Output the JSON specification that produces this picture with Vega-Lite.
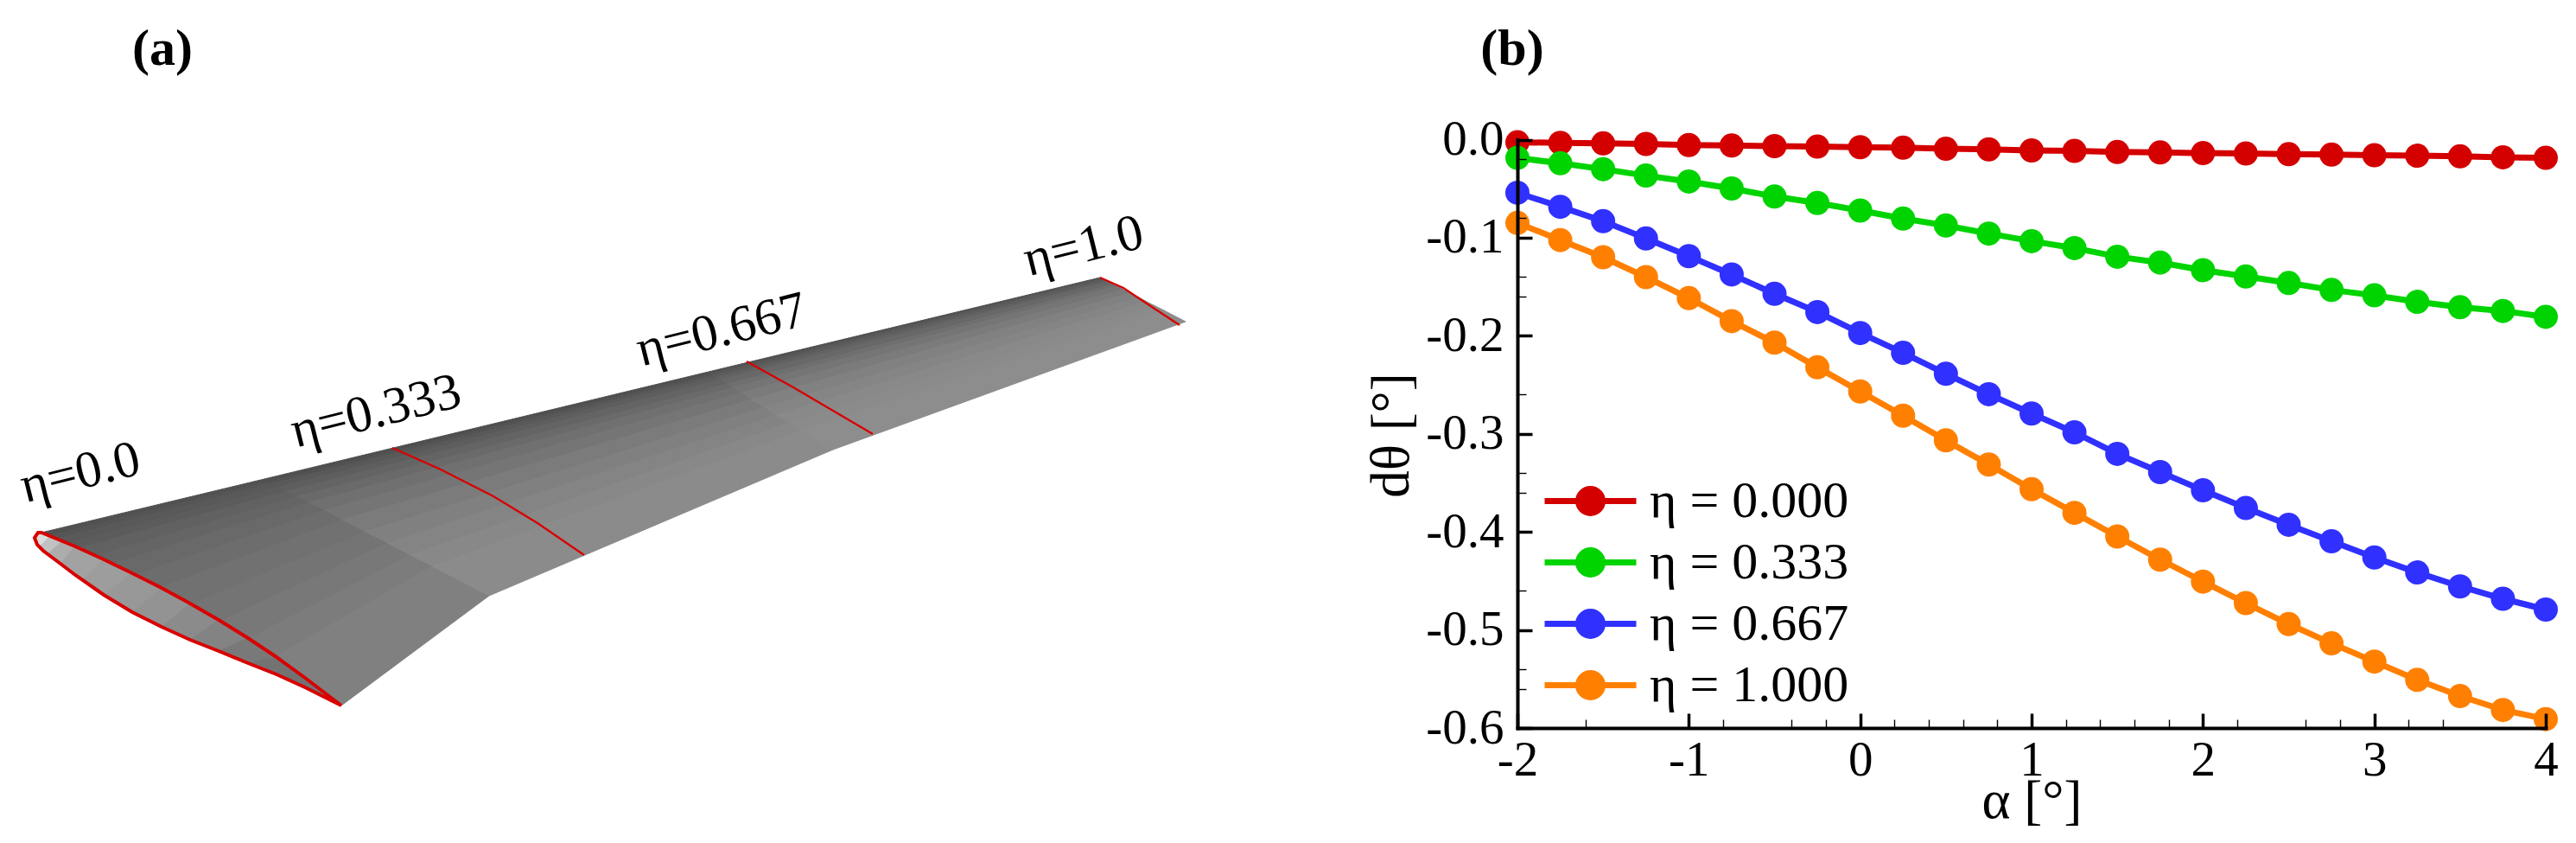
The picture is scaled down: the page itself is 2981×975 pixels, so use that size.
{
"$schema":"https://vega.github.io/schema/vega-lite/v6.json",
"width":2981,"height":975,"padding":0,"autosize":{"type":"none"},
"background":"white",
"view":{"stroke":null},
"config":{"font":"Liberation Serif","view":{"stroke":null}},
"resolve":{"scale":{"x":"independent","y":"independent","color":"independent"},"axis":{"x":"independent","y":"independent"}},
"layer":[
{
"encoding":{
"x":{"field":"wx","type":"quantitative","axis":null,"scale":{"domain":[0,2981],"range":[0,2981],"nice":false,"zero":false}},
"y":{"field":"wy","type":"quantitative","axis":null,"scale":{"domain":[0,975],"range":[0,975],"nice":false,"zero":false}}
},
"layer":[
{
"data":{"values":[
{"p":"a01","i":1,"wx":48,"wy":616,"g":88},{"p":"a01","i":2,"wx":306,"wy":554,"g":88},{"p":"a01","i":3,"wx":311,"wy":557,"g":88},{"p":"a01","i":4,"wx":55,"wy":620,"g":88},
{"p":"a02","i":1,"wx":55,"wy":620,"g":92},{"p":"a02","i":2,"wx":311,"wy":557,"g":92},{"p":"a02","i":3,"wx":316,"wy":559,"g":92},{"p":"a02","i":4,"wx":62,"wy":624,"g":92},
{"p":"a03","i":1,"wx":62,"wy":624,"g":96},{"p":"a03","i":2,"wx":316,"wy":559,"g":96},{"p":"a03","i":3,"wx":324,"wy":563,"g":96},{"p":"a03","i":4,"wx":72,"wy":630,"g":96},
{"p":"a04","i":1,"wx":72,"wy":630,"g":100},{"p":"a04","i":2,"wx":324,"wy":563,"g":100},{"p":"a04","i":3,"wx":332,"wy":568,"g":100},{"p":"a04","i":4,"wx":83,"wy":636,"g":100},
{"p":"a05","i":1,"wx":83,"wy":636,"g":105},{"p":"a05","i":2,"wx":332,"wy":568,"g":105},{"p":"a05","i":3,"wx":345,"wy":574,"g":105},{"p":"a05","i":4,"wx":100,"wy":646,"g":105},
{"p":"a06","i":1,"wx":100,"wy":646,"g":109},{"p":"a06","i":2,"wx":345,"wy":574,"g":109},{"p":"a06","i":3,"wx":358,"wy":581,"g":109},{"p":"a06","i":4,"wx":117,"wy":656,"g":109},
{"p":"a07","i":1,"wx":117,"wy":656,"g":113},{"p":"a07","i":2,"wx":358,"wy":581,"g":113},{"p":"a07","i":3,"wx":376,"wy":590,"g":113},{"p":"a07","i":4,"wx":142,"wy":670,"g":113},
{"p":"a08","i":1,"wx":142,"wy":670,"g":117},{"p":"a08","i":2,"wx":376,"wy":590,"g":117},{"p":"a08","i":3,"wx":397,"wy":601,"g":117},{"p":"a08","i":4,"wx":169,"wy":686,"g":117},
{"p":"a09","i":1,"wx":169,"wy":686,"g":121},{"p":"a09","i":2,"wx":397,"wy":601,"g":121},{"p":"a09","i":3,"wx":423,"wy":615,"g":121},{"p":"a09","i":4,"wx":204,"wy":706,"g":121},
{"p":"a10","i":1,"wx":204,"wy":706,"g":125},{"p":"a10","i":2,"wx":423,"wy":615,"g":125},{"p":"a10","i":3,"wx":449,"wy":628,"g":125},{"p":"a10","i":4,"wx":239,"wy":726,"g":125},
{"p":"a11","i":1,"wx":239,"wy":726,"g":129},{"p":"a11","i":2,"wx":449,"wy":628,"g":129},{"p":"a11","i":3,"wx":475,"wy":642,"g":129},{"p":"a11","i":4,"wx":274,"wy":746,"g":129},
{"p":"a12","i":1,"wx":274,"wy":746,"g":133},{"p":"a12","i":2,"wx":475,"wy":642,"g":133},{"p":"a12","i":3,"wx":501,"wy":655,"g":133},{"p":"a12","i":4,"wx":308,"wy":766,"g":133},
{"p":"a13","i":1,"wx":308,"wy":766,"g":137},{"p":"a13","i":2,"wx":501,"wy":655,"g":137},{"p":"a13","i":3,"wx":566,"wy":689,"g":137},{"p":"a13","i":4,"wx":395,"wy":816,"g":137},
{"p":"b01","i":1,"wx":306,"wy":554,"g":86},{"p":"b01","i":2,"wx":820,"wy":430,"g":86},{"p":"b01","i":3,"wx":823,"wy":432,"g":86},{"p":"b01","i":4,"wx":311,"wy":557,"g":86},
{"p":"b02","i":1,"wx":311,"wy":557,"g":90},{"p":"b02","i":2,"wx":823,"wy":432,"g":90},{"p":"b02","i":3,"wx":826,"wy":434,"g":90},{"p":"b02","i":4,"wx":316,"wy":559,"g":90},
{"p":"b03","i":1,"wx":316,"wy":559,"g":96},{"p":"b03","i":2,"wx":826,"wy":434,"g":96},{"p":"b03","i":3,"wx":830,"wy":436,"g":96},{"p":"b03","i":4,"wx":324,"wy":563,"g":96},
{"p":"b04","i":1,"wx":324,"wy":563,"g":102},{"p":"b04","i":2,"wx":830,"wy":436,"g":102},{"p":"b04","i":3,"wx":834,"wy":439,"g":102},{"p":"b04","i":4,"wx":332,"wy":568,"g":102},
{"p":"b05","i":1,"wx":332,"wy":568,"g":108},{"p":"b05","i":2,"wx":834,"wy":439,"g":108},{"p":"b05","i":3,"wx":842,"wy":444,"g":108},{"p":"b05","i":4,"wx":345,"wy":574,"g":108},
{"p":"b06","i":1,"wx":345,"wy":574,"g":114},{"p":"b06","i":2,"wx":842,"wy":444,"g":114},{"p":"b06","i":3,"wx":849,"wy":448,"g":114},{"p":"b06","i":4,"wx":358,"wy":581,"g":114},
{"p":"b07","i":1,"wx":358,"wy":581,"g":120},{"p":"b07","i":2,"wx":849,"wy":448,"g":120},{"p":"b07","i":3,"wx":859,"wy":454,"g":120},{"p":"b07","i":4,"wx":376,"wy":590,"g":120},
{"p":"b08","i":1,"wx":376,"wy":590,"g":126},{"p":"b08","i":2,"wx":859,"wy":454,"g":126},{"p":"b08","i":3,"wx":870,"wy":462,"g":126},{"p":"b08","i":4,"wx":397,"wy":601,"g":126},
{"p":"b09","i":1,"wx":397,"wy":601,"g":132},{"p":"b09","i":2,"wx":870,"wy":462,"g":132},{"p":"b09","i":3,"wx":885,"wy":471,"g":132},{"p":"b09","i":4,"wx":423,"wy":615,"g":132},
{"p":"b10","i":1,"wx":423,"wy":615,"g":137},{"p":"b10","i":2,"wx":885,"wy":471,"g":137},{"p":"b10","i":3,"wx":899,"wy":480,"g":137},{"p":"b10","i":4,"wx":449,"wy":628,"g":137},
{"p":"b11","i":1,"wx":449,"wy":628,"g":141},{"p":"b11","i":2,"wx":899,"wy":480,"g":141},{"p":"b11","i":3,"wx":914,"wy":489,"g":141},{"p":"b11","i":4,"wx":475,"wy":642,"g":141},
{"p":"b12","i":1,"wx":475,"wy":642,"g":145},{"p":"b12","i":2,"wx":914,"wy":489,"g":145},{"p":"b12","i":3,"wx":928,"wy":498,"g":145},{"p":"b12","i":4,"wx":501,"wy":655,"g":145},
{"p":"b13","i":1,"wx":501,"wy":655,"g":148},{"p":"b13","i":2,"wx":928,"wy":498,"g":148},{"p":"b13","i":3,"wx":964,"wy":520,"g":148},{"p":"b13","i":4,"wx":566,"wy":689,"g":148},
{"p":"c01","i":1,"wx":820,"wy":430,"g":88},{"p":"c01","i":2,"wx":1273,"wy":321,"g":88},{"p":"c01","i":3,"wx":1275,"wy":322,"g":88},{"p":"c01","i":4,"wx":823,"wy":432,"g":88},
{"p":"c02","i":1,"wx":823,"wy":432,"g":94},{"p":"c02","i":2,"wx":1275,"wy":322,"g":94},{"p":"c02","i":3,"wx":1277,"wy":323,"g":94},{"p":"c02","i":4,"wx":826,"wy":434,"g":94},
{"p":"c03","i":1,"wx":826,"wy":434,"g":100},{"p":"c03","i":2,"wx":1277,"wy":323,"g":100},{"p":"c03","i":3,"wx":1280,"wy":325,"g":100},{"p":"c03","i":4,"wx":830,"wy":436,"g":100},
{"p":"c04","i":1,"wx":830,"wy":436,"g":106},{"p":"c04","i":2,"wx":1280,"wy":325,"g":106},{"p":"c04","i":3,"wx":1283,"wy":326,"g":106},{"p":"c04","i":4,"wx":834,"wy":439,"g":106},
{"p":"c05","i":1,"wx":834,"wy":439,"g":112},{"p":"c05","i":2,"wx":1283,"wy":326,"g":112},{"p":"c05","i":3,"wx":1288,"wy":329,"g":112},{"p":"c05","i":4,"wx":842,"wy":444,"g":112},
{"p":"c06","i":1,"wx":842,"wy":444,"g":119},{"p":"c06","i":2,"wx":1288,"wy":329,"g":119},{"p":"c06","i":3,"wx":1293,"wy":331,"g":119},{"p":"c06","i":4,"wx":849,"wy":448,"g":119},
{"p":"c07","i":1,"wx":849,"wy":448,"g":126},{"p":"c07","i":2,"wx":1293,"wy":331,"g":126},{"p":"c07","i":3,"wx":1300,"wy":335,"g":126},{"p":"c07","i":4,"wx":859,"wy":454,"g":126},
{"p":"c08","i":1,"wx":859,"wy":454,"g":132},{"p":"c08","i":2,"wx":1300,"wy":335,"g":132},{"p":"c08","i":3,"wx":1308,"wy":339,"g":132},{"p":"c08","i":4,"wx":870,"wy":462,"g":132},
{"p":"c09","i":1,"wx":870,"wy":462,"g":138},{"p":"c09","i":2,"wx":1308,"wy":339,"g":138},{"p":"c09","i":3,"wx":1318,"wy":344,"g":138},{"p":"c09","i":4,"wx":885,"wy":471,"g":138},
{"p":"c10","i":1,"wx":885,"wy":471,"g":142},{"p":"c10","i":2,"wx":1318,"wy":344,"g":142},{"p":"c10","i":3,"wx":1327,"wy":349,"g":142},{"p":"c10","i":4,"wx":899,"wy":480,"g":142},
{"p":"c11","i":1,"wx":899,"wy":480,"g":146},{"p":"c11","i":2,"wx":1327,"wy":349,"g":146},{"p":"c11","i":3,"wx":1337,"wy":354,"g":146},{"p":"c11","i":4,"wx":914,"wy":489,"g":146},
{"p":"c12","i":1,"wx":914,"wy":489,"g":148},{"p":"c12","i":2,"wx":1337,"wy":354,"g":148},{"p":"c12","i":3,"wx":1347,"wy":359,"g":148},{"p":"c12","i":4,"wx":928,"wy":498,"g":148},
{"p":"c13","i":1,"wx":928,"wy":498,"g":150},{"p":"c13","i":2,"wx":1347,"wy":359,"g":150},{"p":"c13","i":3,"wx":1372,"wy":372,"g":150},{"p":"c13","i":4,"wx":964,"wy":520,"g":150},
{"p":"d01","i":1,"wx":48,"wy":616,"g":225},{"p":"d01","i":2,"wx":58,"wy":620,"g":225},{"p":"d01","i":3,"wx":45,"wy":633,"g":225},{"p":"d01","i":4,"wx":40,"wy":622,"g":225},
{"p":"d02","i":1,"wx":58,"wy":620,"g":200},{"p":"d02","i":2,"wx":72,"wy":626,"g":200},{"p":"d02","i":3,"wx":55,"wy":641,"g":200},{"p":"d02","i":4,"wx":45,"wy":633,"g":200},
{"p":"d03","i":1,"wx":72,"wy":626,"g":180},{"p":"d03","i":2,"wx":87,"wy":632,"g":180},{"p":"d03","i":3,"wx":70,"wy":652,"g":180},{"p":"d03","i":4,"wx":55,"wy":641,"g":180},
{"p":"d04","i":1,"wx":87,"wy":632,"g":170},{"p":"d04","i":2,"wx":120,"wy":647,"g":170},{"p":"d04","i":3,"wx":95,"wy":670,"g":170},{"p":"d04","i":4,"wx":70,"wy":652,"g":170},
{"p":"d05","i":1,"wx":120,"wy":647,"g":165},{"p":"d05","i":2,"wx":153,"wy":663,"g":165},{"p":"d05","i":3,"wx":120,"wy":688,"g":165},{"p":"d05","i":4,"wx":95,"wy":670,"g":165},
{"p":"d06","i":1,"wx":153,"wy":663,"g":160},{"p":"d06","i":2,"wx":187,"wy":680,"g":160},{"p":"d06","i":3,"wx":153,"wy":708,"g":160},{"p":"d06","i":4,"wx":120,"wy":688,"g":160},
{"p":"d07","i":1,"wx":187,"wy":680,"g":155},{"p":"d07","i":2,"wx":220,"wy":698,"g":155},{"p":"d07","i":3,"wx":187,"wy":725,"g":155},{"p":"d07","i":4,"wx":153,"wy":708,"g":155},
{"p":"d08","i":1,"wx":220,"wy":698,"g":148},{"p":"d08","i":2,"wx":253,"wy":717,"g":148},{"p":"d08","i":3,"wx":220,"wy":740,"g":148},{"p":"d08","i":4,"wx":187,"wy":725,"g":148},
{"p":"d09","i":1,"wx":253,"wy":717,"g":140},{"p":"d09","i":2,"wx":287,"wy":738,"g":140},{"p":"d09","i":3,"wx":253,"wy":753,"g":140},{"p":"d09","i":4,"wx":220,"wy":740,"g":140},
{"p":"d10","i":1,"wx":287,"wy":738,"g":130},{"p":"d10","i":2,"wx":320,"wy":760,"g":130},{"p":"d10","i":3,"wx":287,"wy":767,"g":130},{"p":"d10","i":4,"wx":253,"wy":753,"g":130},
{"p":"d11","i":1,"wx":320,"wy":760,"g":124},{"p":"d11","i":2,"wx":353,"wy":784,"g":124},{"p":"d11","i":3,"wx":320,"wy":780,"g":124},{"p":"d11","i":4,"wx":287,"wy":767,"g":124},
{"p":"d12","i":1,"wx":353,"wy":784,"g":122},{"p":"d12","i":2,"wx":395,"wy":816,"g":122},{"p":"d12","i":3,"wx":395,"wy":816,"g":122},{"p":"d12","i":4,"wx":320,"wy":780,"g":122}
]},
"mark":{"type":"line","strokeWidth":1,"interpolate":"linear-closed"},
"encoding":{
"detail":{"field":"p"},
"order":{"field":"i","type":"quantitative"},
"fill":{"field":"g","type":"quantitative","legend":null,"scale":{"domain":[0,255],"range":["#000000","#ffffff"]}},
"stroke":{"field":"g","type":"quantitative","legend":null,"scale":{"domain":[0,255],"range":["#000000","#ffffff"]}}
}
},
{
"data":{"values":[
{"c":"root","i":1,"wx":395,"wy":816},{"c":"root","i":2,"wx":353,"wy":795},{"c":"root","i":3,"wx":320,"wy":780},{"c":"root","i":4,"wx":287,"wy":767},{"c":"root","i":5,"wx":253,"wy":753},{"c":"root","i":6,"wx":220,"wy":740},{"c":"root","i":7,"wx":187,"wy":725},{"c":"root","i":8,"wx":153,"wy":708},{"c":"root","i":9,"wx":120,"wy":688},{"c":"root","i":10,"wx":87,"wy":665},{"c":"root","i":11,"wx":70,"wy":652},{"c":"root","i":12,"wx":50,"wy":637},{"c":"root","i":13,"wx":43,"wy":630},{"c":"root","i":14,"wx":40,"wy":622},{"c":"root","i":15,"wx":44,"wy":616},{"c":"root","i":16,"wx":48,"wy":616},{"c":"root","i":17,"wx":87,"wy":632},{"c":"root","i":18,"wx":120,"wy":647},{"c":"root","i":19,"wx":153,"wy":663},{"c":"root","i":20,"wx":187,"wy":680},{"c":"root","i":21,"wx":220,"wy":698},{"c":"root","i":22,"wx":253,"wy":717},{"c":"root","i":23,"wx":287,"wy":738},{"c":"root","i":24,"wx":320,"wy":760},{"c":"root","i":25,"wx":353,"wy":784},{"c":"root","i":26,"wx":395,"wy":816},
{"c":"s333","i":1,"wx":454,"wy":518},{"c":"s333","i":2,"wx":510,"wy":543},{"c":"s333","i":3,"wx":571,"wy":574},{"c":"s333","i":4,"wx":622,"wy":605},{"c":"s333","i":5,"wx":676,"wy":642},
{"c":"s667","i":1,"wx":864,"wy":418},{"c":"s667","i":2,"wx":918,"wy":448},{"c":"s667","i":3,"wx":964,"wy":475},{"c":"s667","i":4,"wx":1010,"wy":502},
{"c":"tip","i":1,"wx":1273,"wy":321},{"c":"tip","i":2,"wx":1300,"wy":333},{"c":"tip","i":3,"wx":1330,"wy":353},{"c":"tip","i":4,"wx":1365,"wy":376}
]},
"mark":{"type":"line","color":"#d80000"},
"encoding":{
"detail":{"field":"c"},
"order":{"field":"i","type":"quantitative"},
"strokeWidth":{"condition":{"test":"datum.c==='root'","value":4},"value":2.3}
}
},
{
"data":{"values":[
{"wx":93,"wy":547,"t":"η=0.0"},{"wx":435,"wy":476,"t":"η=0.333"},{"wx":835,"wy":382,"t":"η=0.667"},{"wx":1254,"wy":285,"t":"η=1.0"}
]},
"mark":{"type":"text","font":"Liberation Serif","fontSize":60,"angle":346,"align":"center","baseline":"middle","color":"black"},
"encoding":{"text":{"field":"t"}}
},
{
"data":{"values":[{"wx":188,"wy":57,"t":"(a)"},{"wx":1750,"wy":57,"t":"(b)"}]},
"mark":{"type":"text","font":"Liberation Serif","fontWeight":"bold","fontSize":60,"align":"center","baseline":"middle","color":"black"},
"encoding":{"text":{"field":"t"}}
}
]
},
{
"data":{"values":[
{"a":-2,"d":-0.0027,"e":"η = 0.000"},{"a":-1.75,"d":-0.0033,"e":"η = 0.000"},{"a":-1.5,"d":-0.0038,"e":"η = 0.000"},{"a":-1.25,"d":-0.0044,"e":"η = 0.000"},{"a":-1,"d":-0.0055,"e":"η = 0.000"},{"a":-0.75,"d":-0.006,"e":"η = 0.000"},{"a":-0.5,"d":-0.0066,"e":"η = 0.000"},{"a":-0.25,"d":-0.0071,"e":"η = 0.000"},{"a":0,"d":-0.0077,"e":"η = 0.000"},{"a":0.25,"d":-0.0082,"e":"η = 0.000"},{"a":0.5,"d":-0.0093,"e":"η = 0.000"},{"a":0.75,"d":-0.0099,"e":"η = 0.000"},{"a":1,"d":-0.011,"e":"η = 0.000"},{"a":1.25,"d":-0.0115,"e":"η = 0.000"},{"a":1.5,"d":-0.0126,"e":"η = 0.000"},{"a":1.75,"d":-0.0131,"e":"η = 0.000"},{"a":2,"d":-0.0137,"e":"η = 0.000"},{"a":2.25,"d":-0.0142,"e":"η = 0.000"},{"a":2.5,"d":-0.0148,"e":"η = 0.000"},{"a":2.75,"d":-0.0153,"e":"η = 0.000"},{"a":3,"d":-0.0159,"e":"η = 0.000"},{"a":3.25,"d":-0.0164,"e":"η = 0.000"},{"a":3.5,"d":-0.017,"e":"η = 0.000"},{"a":3.75,"d":-0.018,"e":"η = 0.000"},{"a":4,"d":-0.0186,"e":"η = 0.000"},
{"a":-2,"d":-0.0186,"e":"η = 0.333"},{"a":-1.75,"d":-0.0241,"e":"η = 0.333"},{"a":-1.5,"d":-0.0301,"e":"η = 0.333"},{"a":-1.25,"d":-0.0367,"e":"η = 0.333"},{"a":-1,"d":-0.0427,"e":"η = 0.333"},{"a":-0.75,"d":-0.0498,"e":"η = 0.333"},{"a":-0.5,"d":-0.058,"e":"η = 0.333"},{"a":-0.25,"d":-0.0646,"e":"η = 0.333"},{"a":0,"d":-0.0723,"e":"η = 0.333"},{"a":0.25,"d":-0.0805,"e":"η = 0.333"},{"a":0.5,"d":-0.0876,"e":"η = 0.333"},{"a":0.75,"d":-0.0958,"e":"η = 0.333"},{"a":1,"d":-0.1035,"e":"η = 0.333"},{"a":1.25,"d":-0.1106,"e":"η = 0.333"},{"a":1.5,"d":-0.1194,"e":"η = 0.333"},{"a":1.75,"d":-0.1254,"e":"η = 0.333"},{"a":2,"d":-0.1331,"e":"η = 0.333"},{"a":2.25,"d":-0.1396,"e":"η = 0.333"},{"a":2.5,"d":-0.1462,"e":"η = 0.333"},{"a":2.75,"d":-0.1533,"e":"η = 0.333"},{"a":3,"d":-0.1588,"e":"η = 0.333"},{"a":3.25,"d":-0.1654,"e":"η = 0.333"},{"a":3.5,"d":-0.1709,"e":"η = 0.333"},{"a":3.75,"d":-0.1747,"e":"η = 0.333"},{"a":4,"d":-0.1807,"e":"η = 0.333"},
{"a":-2,"d":-0.0542,"e":"η = 0.667"},{"a":-1.75,"d":-0.0685,"e":"η = 0.667"},{"a":-1.5,"d":-0.0832,"e":"η = 0.667"},{"a":-1.25,"d":-0.1008,"e":"η = 0.667"},{"a":-1,"d":-0.1188,"e":"η = 0.667"},{"a":-0.75,"d":-0.1375,"e":"η = 0.667"},{"a":-0.5,"d":-0.1572,"e":"η = 0.667"},{"a":-0.25,"d":-0.1758,"e":"η = 0.667"},{"a":0,"d":-0.1972,"e":"η = 0.667"},{"a":0.25,"d":-0.2174,"e":"η = 0.667"},{"a":0.5,"d":-0.2388,"e":"η = 0.667"},{"a":0.75,"d":-0.2596,"e":"η = 0.667"},{"a":1,"d":-0.2793,"e":"η = 0.667"},{"a":1.25,"d":-0.2985,"e":"η = 0.667"},{"a":1.5,"d":-0.3204,"e":"η = 0.667"},{"a":1.75,"d":-0.339,"e":"η = 0.667"},{"a":2,"d":-0.3576,"e":"η = 0.667"},{"a":2.25,"d":-0.3757,"e":"η = 0.667"},{"a":2.5,"d":-0.3927,"e":"η = 0.667"},{"a":2.75,"d":-0.4096,"e":"η = 0.667"},{"a":3,"d":-0.4261,"e":"η = 0.667"},{"a":3.25,"d":-0.4414,"e":"η = 0.667"},{"a":3.5,"d":-0.4556,"e":"η = 0.667"},{"a":3.75,"d":-0.4682,"e":"η = 0.667"},{"a":4,"d":-0.4792,"e":"η = 0.667"},
{"a":-2,"d":-0.0849,"e":"η = 1.000"},{"a":-1.75,"d":-0.1024,"e":"η = 1.000"},{"a":-1.5,"d":-0.1199,"e":"η = 1.000"},{"a":-1.25,"d":-0.1402,"e":"η = 1.000"},{"a":-1,"d":-0.1616,"e":"η = 1.000"},{"a":-0.75,"d":-0.1851,"e":"η = 1.000"},{"a":-0.5,"d":-0.207,"e":"η = 1.000"},{"a":-0.25,"d":-0.2322,"e":"η = 1.000"},{"a":0,"d":-0.2568,"e":"η = 1.000"},{"a":0.25,"d":-0.2815,"e":"η = 1.000"},{"a":0.5,"d":-0.3067,"e":"η = 1.000"},{"a":0.75,"d":-0.3313,"e":"η = 1.000"},{"a":1,"d":-0.3565,"e":"η = 1.000"},{"a":1.25,"d":-0.3806,"e":"η = 1.000"},{"a":1.5,"d":-0.4047,"e":"η = 1.000"},{"a":1.75,"d":-0.4283,"e":"η = 1.000"},{"a":2,"d":-0.4507,"e":"η = 1.000"},{"a":2.25,"d":-0.4726,"e":"η = 1.000"},{"a":2.5,"d":-0.494,"e":"η = 1.000"},{"a":2.75,"d":-0.5137,"e":"η = 1.000"},{"a":3,"d":-0.5323,"e":"η = 1.000"},{"a":3.25,"d":-0.5509,"e":"η = 1.000"},{"a":3.5,"d":-0.5674,"e":"η = 1.000"},{"a":3.75,"d":-0.5816,"e":"η = 1.000"},{"a":4,"d":-0.5909,"e":"η = 1.000"}
]},
"resolve":{"axis":{"x":"independent","y":"independent"}},
"layer":[
{
"mark":{"type":"line","strokeWidth":7},
"encoding":{
"x":{"field":"a","type":"quantitative","scale":{"domain":[-2,4],"range":[1756,2946],"nice":false,"zero":false},
"axis":{"orient":"bottom","offset":-133,"values":[-2,-1,0,1,2,3,4],"title":"α [°]","titleFont":"Liberation Serif","titleFontSize":63,"titleFontWeight":"normal","titleColor":"black","titleX":2351,"titleY":103,"titleBaseline":"alphabetic","titleAlign":"center","labelFont":"Liberation Serif","labelFontSize":57,"labelColor":"black","labelExpr":"replace(format(datum.value,'d'),'−','-')","labelOverlap":false,"labelFlush":false,"labelBound":false,"labelPadding":26,"tickSize":-17,"tickWidth":3.5,"tickColor":"black","domainWidth":4,"domainColor":"black","domainCap":"square","grid":false,"zindex":1}},
"y":{"field":"d","type":"quantitative","scale":{"domain":[-0.6,0],"range":[842,161.5],"nice":false,"zero":false},
"axis":{"orient":"left","offset":-1756,"values":[0,-0.1,-0.2,-0.3,-0.4,-0.5,-0.6],"title":"dθ [°]","titleFont":"Liberation Serif","titleFontSize":63,"titleFontWeight":"normal","titleColor":"black","titleX":-127,"titleY":503,"titleAngle":-90,"titleBaseline":"alphabetic","titleAlign":"center","labelFont":"Liberation Serif","labelFontSize":57,"labelColor":"black","labelExpr":"replace(format(datum.value,'.1f'),'−','-')","labelOverlap":false,"labelFlush":false,"labelBound":false,"labelPadding":33,"tickSize":-17,"tickWidth":3.5,"tickColor":"black","domainWidth":4,"domainColor":"black","domainCap":"square","grid":false,"zindex":1}},
"color":{"field":"e","type":"nominal","scale":{"domain":["η = 0.000","η = 0.333","η = 0.667","η = 1.000"],"range":["#d40000","#00d400","#3030ff","#ff8000"]},
"legend":{"title":null,"orient":"none","legendX":1784,"legendY":544,"padding":0,"offset":0,"rowPadding":0,"clipHeight":71,"symbolSize":11236,"symbolType":"M-1,0L1,0M0.264,0A0.264,0.264,0,1,1,-0.264,0A0.264,0.264,0,1,1,0.264,0Z","symbolStrokeWidth":7,"symbolOpacity":1,"labelFont":"Liberation Serif","labelFontSize":60,"labelColor":"black","labelOffset":12,"labelBaseline":"middle","labelLimit":400}}
}
},
{
"mark":{"type":"point","filled":true,"size":784,"opacity":1,"shape":"circle"},
"encoding":{
"x":{"field":"a","type":"quantitative","scale":{"domain":[-2,4],"range":[1756,2946],"nice":false,"zero":false},
"axis":{"orient":"bottom","offset":-133,"values":[-1.6,-0.8,-0.4,-0.2,0.2,0.4,0.6,0.8,1.2,1.4,1.6,1.8,2.2,2.6,2.8,3.2,3.4],"title":null,"labels":false,"domain":false,"grid":false,"tickSize":-10,"tickWidth":1.4,"tickColor":"black","zindex":1}},
"y":{"field":"d","type":"quantitative","scale":{"domain":[-0.6,0],"range":[842,161.5],"nice":false,"zero":false},
"axis":{"orient":"left","offset":-1756,"values":[-0.02,-0.08,-0.14,-0.16,-0.26,-0.34,-0.36,-0.46,-0.54,-0.56],"title":null,"labels":false,"domain":false,"grid":false,"tickSize":-10,"tickWidth":1.4,"tickColor":"black","zindex":1}},
"color":{"field":"e","type":"nominal","scale":{"domain":["η = 0.000","η = 0.333","η = 0.667","η = 1.000"],"range":["#d40000","#00d400","#3030ff","#ff8000"]}}
}
}
]
}
]
}
